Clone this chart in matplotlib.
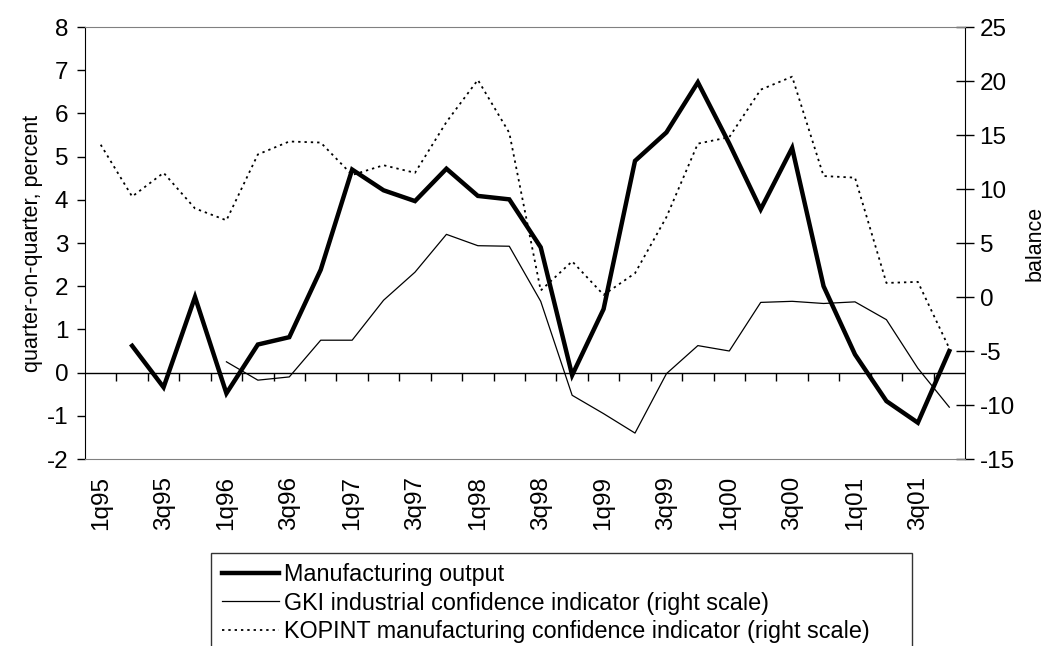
import matplotlib
matplotlib.use("Agg")
import matplotlib.pyplot as plt
import numpy as np

plt.rcParams['font.family'] = ['Liberation Sans', 'DejaVu Sans']
plt.rcParams['axes.unicode_minus'] = False

quarters = ["1q95", "2q95", "3q95", "4q95", "1q96", "2q96", "3q96", "4q96",
            "1q97", "2q97", "3q97", "4q97", "1q98", "2q98", "3q98", "4q98",
            "1q99", "2q99", "3q99", "4q99", "1q00", "2q00", "3q00", "4q00",
            "1q01", "2q01", "3q01", "4q01"]

# Manufacturing output, quarter-on-quarter percent (left scale); starts 2q95
manufacturing = [np.nan, 0.62, -0.34, 1.75, -0.48, 0.65, 0.82, 2.38,
                 4.70, 4.22, 3.97, 4.72, 4.09, 4.01, 2.90, -0.06,
                 1.47, 4.90, 5.56, 6.72, 5.30, 3.78, 5.20, 2.00,
                 0.42, -0.66, -1.16, 0.50]

# GKI industrial confidence indicator, balance (right scale); starts 1q96
gki = [np.nan, np.nan, np.nan, np.nan, -6.0, -7.7, -7.4, -4.0,
       -4.0, -0.3, 2.3, 5.8, 4.75, 4.7, -0.4, -9.1,
       -10.8, -12.6, -7.1, -4.5, -5.0, -0.5, -0.4, -0.6,
       -0.45, -2.1, -6.6, -10.2]

# KOPINT manufacturing confidence indicator, balance (right scale)
kopint = [14.1, 9.3, 11.5, 8.2, 7.1, 13.2, 14.4, 14.3,
          11.3, 12.2, 11.5, 16.2, 20.1, 15.2, 0.6, 3.3,
          0.2, 2.2, 7.4, 14.2, 14.8, 19.2, 20.4, 11.2,
          11.05, 1.3, 1.4, -4.75]

labels = {
    "man": "Manufacturing output",
    "gki": "GKI industrial confidence indicator (right scale)",
    "kop": "KOPINT manufacturing confidence indicator (right scale)",
}

W, H = 1054, 646
fig = plt.figure(figsize=(W / 100, H / 100), dpi=100)
L, R, T, B = 85, 965, 27, 459
ax = fig.add_axes([L / W, 1 - B / H, (R - L) / W, (B - T) / H])
ax2 = ax.twinx()

x = np.arange(len(quarters))
grey = "#808080"
FS_TICK = 17.5
FS_LAB = 15.5
FS_LEG = 16.8

# right-scale series
l_gki, = ax2.plot(x, gki, color="black", lw=0.9, label=labels["gki"])
l_kop, = ax2.plot(x, kopint, color="black", lw=1.3, linestyle=(0, (1.3, 2.2)),
                  label=labels["kop"])
ax2.set_ylim(-15, 25)
ax2.set_yticks(np.arange(-15, 26, 5))
ax2.tick_params(axis="y", direction="inout", length=13, width=1,
                labelsize=FS_TICK, pad=4)
for s in ["top", "bottom", "left"]:
    ax2.spines[s].set_visible(False)
ax2.spines["right"].set_color("black")
ax2.set_ylabel("balance", fontsize=FS_LAB, labelpad=7)

# left-scale series (drawn on top)
ax.set_zorder(ax2.get_zorder() + 1)
ax.patch.set_visible(False)
ax.axhline(0, color="black", lw=1.0, zorder=1)
l_man, = ax.plot(x, manufacturing, color="black", lw=3.2, solid_joinstyle="miter",
                 label=labels["man"], zorder=3)
ax.set_ylim(-2, 8)
ax.set_yticks(np.arange(-2, 9, 1))
ax.set_xlim(-0.5, len(quarters) - 0.5)
ax.tick_params(axis="y", direction="out", length=6, width=1,
               labelsize=FS_TICK, pad=6)
ax.set_ylabel("quarter-on-quarter, percent", fontsize=FS_LAB, labelpad=3)

ax.set_xticks(x[::2])
ax.set_xticklabels(quarters[::2], rotation=90, fontsize=FS_TICK)
ax.tick_params(axis="x", length=0, pad=12)

ax.spines["top"].set_color(grey)
ax.spines["bottom"].set_color(grey)
ax.spines["left"].set_color("black")
ax.spines["right"].set_visible(False)

# category boundary ticks on the zero line
sec = ax.secondary_xaxis(0.2)
sec.set_xticks(np.arange(0.5, len(quarters) - 1, 1.0))
sec.set_xticklabels([])
sec.tick_params(axis="x", direction="out", length=6, width=1, color="black")
sec.spines["bottom"].set_visible(False)

leg = fig.legend(handles=[l_man, l_gki, l_kop],
                 labels=[labels["man"], labels["gki"], labels["kop"]],
                 loc="upper left",
                 bbox_to_anchor=(211 / W, 1 - 553 / H - 0.01, (912 - 211) / W, 0.01),
                 mode="expand", fontsize=FS_LEG, frameon=True, fancybox=False,
                 edgecolor="black", handlelength=2.45, handletextpad=0.25,
                 labelspacing=0.22, borderpad=0.45, borderaxespad=0)
leg.get_frame().set_linewidth(1.0)

fig.savefig("out.png", dpi=100)
